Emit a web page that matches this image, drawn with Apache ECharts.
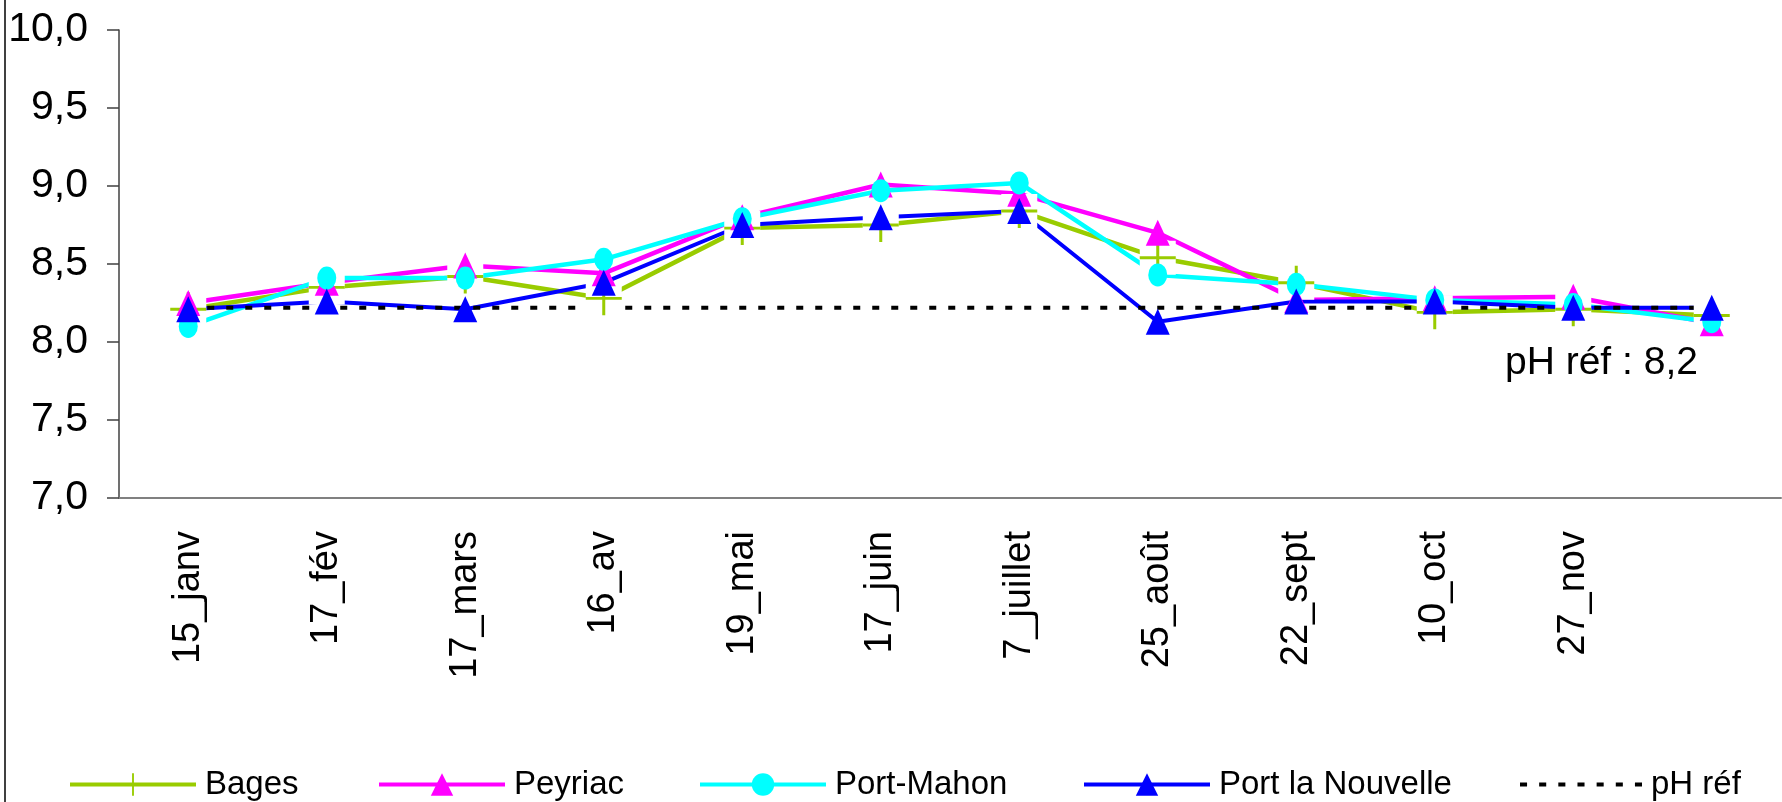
<!DOCTYPE html>
<html><head><meta charset="utf-8">
<script src="https://cdn.jsdelivr.net/npm/echarts@6/dist/echarts.min.js"></script>
<style>html,body{margin:0;padding:0;background:#fff}#c{width:1782px;height:802px}</style>
</head><body><div id="c"></div>
<script>
const categories = ['15_janv','17_fév','17_mars','16_av','19_mai','17_juin','7_juillet','25_août','22_sept','10_oct','27_nov',''];
const bages      = [8.21, 8.35, 8.42, 8.28, 8.73, 8.75, 8.84, 8.54, 8.38, 8.19, 8.21, 8.17];
const peyriac    = [8.25, 8.38, 8.49, 8.44, 8.80, 9.01, 8.95, 8.70, 8.27, 8.28, 8.29, 8.12];
const portMahon  = [8.10, 8.41, 8.41, 8.53, 8.79, 8.97, 9.02, 8.43, 8.37, 8.27, 8.24, 8.13];
const portNouv   = [8.21, 8.26, 8.21, 8.38, 8.75, 8.80, 8.84, 8.13, 8.26, 8.26, 8.22, 8.22];
const phRef      = [8.22, 8.22, 8.22, 8.22, 8.22, 8.22, 8.22, 8.22, 8.22, 8.22, 8.22, 8.22];
const yTickLabels = ['7,0','7,5','8,0','8,5','9,0','9,5','10,0'];
const names = ['Bages','Peyriac','Port-Mahon','Port la Nouvelle','pH réf'];

const C_BAGES = '#99cc00', C_PEY = '#ff00ff', C_PM = '#00ffff', C_PLN = '#0000ff';
const CROSS = 'path://M0,16.5H36V19.5H0Z M16.5,0H19.5V36H16.5Z';
const TXT = 'Liberation Sans, Arial, sans-serif';

function lineSeries(name, data, color, symbol, width) {
  return { type:'line', name, data, z:2, symbol, showSymbol:false, color,
    lineStyle:{color, width}, itemStyle:{color}, emphasis:{disabled:true} };
}
function markSeries(name, data, color, symbol, size, z) {
  return { type:'line', name, data, z, symbol, symbolSize:size, showSymbol:true, showAllSymbol:true,
    lineStyle:{opacity:0, width:0}, itemStyle:{color, borderWidth:0}, emphasis:{disabled:true}, silent:true };
}
const legendPos = [63, 372, 693, 1077, 1515];
const legends = names.map((n, i) => ({
  data: [ i === 4 ? { name:n, icon:'path://M0,0h7v4h-7z M19,0h7v4h-7z M38,0h7v4h-7z M57,0h7v4h-7z M76,0h7v4h-7z M95,0h7v4h-7z M114,0h7v4h-7z', itemStyle:{color:'#000'} } : n ],
  left: legendPos[i], top: 763, itemWidth: i === 4 ? 122 : 126, itemHeight: 28,
  lineStyle:{width:4},
  textStyle:{fontFamily:TXT, fontSize:33, color:'#000', padding:[0,0,0,4]},
  selectedMode:false
}));

const chart = echarts.init(document.getElementById('c'));
chart.setOption({
  animation:false,
  backgroundColor:'#fff',
  grid:{left:119, right:1, top:30, bottom:304, containLabel:false},
  legend: legends,
  xAxis:{type:'category', data:categories, boundaryGap:true,
    axisLine:{lineStyle:{color:'#808080', width:2}},
    axisTick:{interval:0, length:11, lineStyle:{color:'#505050', width:1.5}},
    axisLabel:{interval:0, rotate:90, margin:33, fontFamily:TXT, fontSize:38, color:'#000'},
    splitLine:{show:false}},
  yAxis:{type:'value', min:7, max:10, interval:0.5,
    axisLine:{show:true, lineStyle:{color:'#404040', width:1.5}},
    axisTick:{show:true, length:12, lineStyle:{color:'#404040', width:1.5}},
    axisLabel:{margin:31, fontFamily:TXT, fontSize:41, color:'#000',
      formatter:(v)=> yTickLabels[Math.round((v-7)/0.5)]},
    splitLine:{show:false}},
  series:[
    lineSeries('Bages', bages, C_BAGES, CROSS, 4.5),
    lineSeries('Peyriac', peyriac, C_PEY, 'triangle', 4.5),
    lineSeries('Port-Mahon', portMahon, C_PM, 'circle', 4.5),
    lineSeries('Port la Nouvelle', portNouv, C_PLN, 'triangle', 4),
    { type:'line', name:'pH réf', data:phRef, z:2, symbol:'none', showSymbol:false, color:'#000',
      lineStyle:{color:'#000', width:4, type:[7,12]}, emphasis:{disabled:true} },
    markSeries('Bages', bages, '#ffffff', 'rect', [36,34], 3),
    markSeries('Bages', bages, C_BAGES, CROSS, [36,34], 4),
    markSeries('Peyriac', peyriac, C_PEY, 'triangle', [24,26], 5),
    markSeries('Port-Mahon', portMahon, C_PM, 'circle', [19,23], 6),
    markSeries('Port la Nouvelle', portNouv, C_PLN, 'triangle', [24,26], 7)
  ],
  graphic:[
    {type:'line', shape:{x1:5, y1:0, x2:5, y2:802}, style:{stroke:'#000', lineWidth:1.5}, silent:true},
    {type:'text', left:1505, top:344, style:{text:'pH réf : 8,2', font:'39px Liberation Sans, Arial, sans-serif', fill:'#000'}, silent:true}
  ]
});
</script></body></html>
